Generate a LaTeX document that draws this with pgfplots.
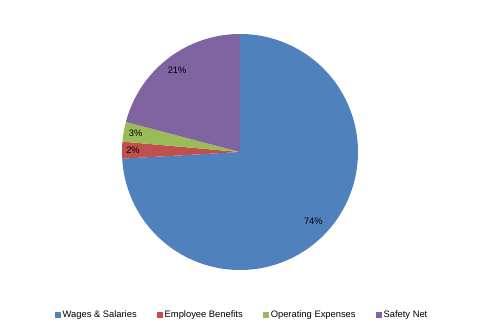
\documentclass[border=0pt]{standalone}
\usepackage{pgfplots}
\pgfplotsset{compat=1.18}
\usepackage{pgfplotstable}
\usepackage{fontspec}
\setmainfont{Liberation Sans}
\definecolor{cA}{HTML}{4F81BD}
\definecolor{cB}{HTML}{C0504D}
\definecolor{cC}{HTML}{9BBB59}
\definecolor{cD}{HTML}{8064A2}
\pgfplotstableread{
name value
Wages 74.1
Benefits 2.3
Operating 2.7
Safety 20.9
}\piedata
\begin{document}
\begin{tikzpicture}[x=1bp,y=1bp]
\pgfplotstablegetelem{0}{value}\of\piedata \let\vA\pgfplotsretval
\pgfplotstablegetelem{1}{value}\of\piedata \let\vB\pgfplotsretval
\pgfplotstablegetelem{2}{value}\of\piedata \let\vC\pgfplotsretval
\pgfplotstablegetelem{3}{value}\of\piedata \let\vD\pgfplotsretval
\pgfmathsetmacro\aA{90}
\pgfmathsetmacro\aB{\aA-3.6*\vA}
\pgfmathsetmacro\aC{\aB-3.6*\vB}
\pgfmathsetmacro\aD{\aC-3.6*\vC}
\pgfmathsetmacro\aE{\aD-3.6*\vD}
\pgfmathtruncatemacro\pA{round(\vA)}
\pgfmathtruncatemacro\pB{round(\vB)}
\pgfmathtruncatemacro\pC{round(\vC)}
\pgfmathtruncatemacro\pD{round(\vD)}
\useasboundingbox (0,0) rectangle (480,333);
\begin{axis}[at={(0,0)}, anchor=south west, scale only axis,
  width=480bp, height=333bp, xmin=0, xmax=480, ymin=0, ymax=333,
  hide axis, clip=false,
  legend columns=4,
  legend style={at={(axis cs:242,18)}, anchor=center, draw=none, fill=none,
    font=\fontsize{9.4}{11}\selectfont, inner sep=0pt,
    /tikz/every even column/.append style={column sep=18bp}},
  legend image code/.code={\fill[#1] (0bp,-3bp) rectangle (6bp,3bp);},
]
\addplot[fill=cA, draw=none, domain=\aB:\aA, samples=150, variable=\t]
  ({240+118*cos(t)},{181+118*sin(t)}) -- (axis cs:240,181) -- cycle;
\addlegendentry{Wages \& Salaries}
\addplot[fill=cB, draw=none, domain=\aC:\aB, samples=10, variable=\t]
  ({240+118*cos(t)},{181+118*sin(t)}) -- (axis cs:240,181) -- cycle;
\addlegendentry{Employee Benefits}
\addplot[fill=cC, draw=none, domain=\aD:\aC, samples=10, variable=\t]
  ({240+118*cos(t)},{181+118*sin(t)}) -- (axis cs:240,181) -- cycle;
\addlegendentry{Operating Expenses}
\addplot[fill=cD, draw=none, domain=\aE:\aD, samples=60, variable=\t]
  ({240+118*cos(t)},{181+118*sin(t)}) -- (axis cs:240,181) -- cycle;
\addlegendentry{Safety Net}
\pgfmathsetmacro\mA{(\aA+\aB)/2}
\pgfmathsetmacro\mB{(\aB+\aC)/2}
\pgfmathsetmacro\mC{(\aC+\aD)/2}
\pgfmathsetmacro\mD{(\aD+\aE)/2}
\node[font=\fontsize{9.4}{11}\selectfont] at (axis cs:{240+101*cos(\mA)},{181+101*sin(\mA)}) {\pA\%};
\node[font=\fontsize{9.4}{11}\selectfont] at (axis cs:{240+107*cos(\mB)},{181+107*sin(\mB)}) {\pB\%};
\node[font=\fontsize{9.4}{11}\selectfont] at (axis cs:{240+106*cos(\mC)},{181+106*sin(\mC)}) {\pC\%};
\node[font=\fontsize{9.4}{11}\selectfont] at (axis cs:{240+103*cos(\mD)},{181+103*sin(\mD)}) {\pD\%};
\end{axis}
\end{tikzpicture}
\end{document}
